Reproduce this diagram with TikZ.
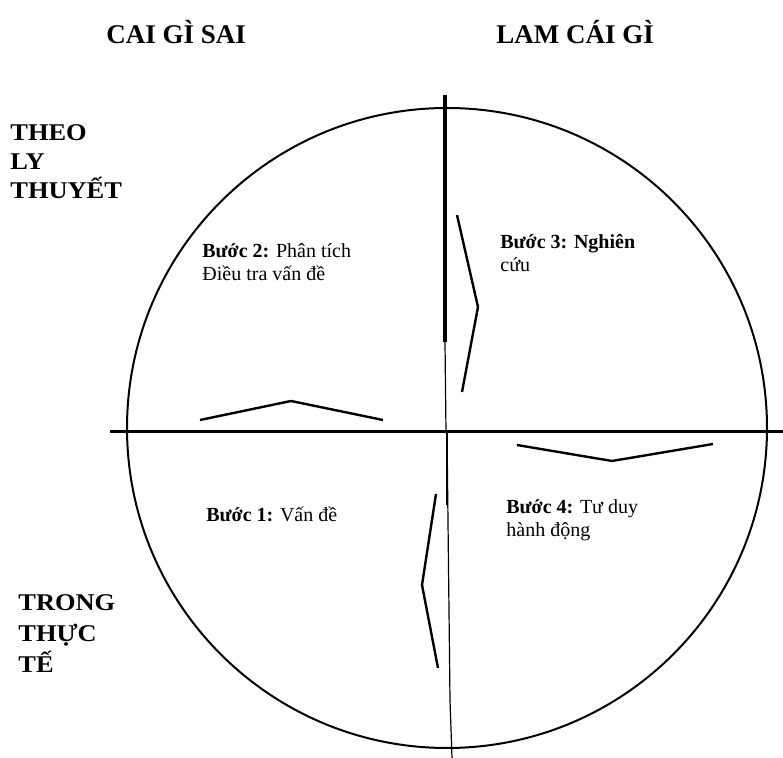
\documentclass[tikz,border=0pt]{standalone}
\usepackage{fontspec}
\setmainfont{Liberation Serif}
\newfontfamily\widefont[FakeStretch=1.1]{Liberation Serif}
\usetikzlibrary{positioning}
\tikzset{
    heading/.style={
        font=\bfseries\fontsize{13.5}{15}\selectfont,
        anchor=base west, inner sep=0pt
    },
    side label/.style={
        font=\widefont\bfseries\fontsize{12}{14.5}\selectfont,
        align=left, anchor=north west, inner sep=0pt
    },
    step note/.style={
        font=\fontsize{10}{11.5}\selectfont,
        align=left, anchor=north west, inner sep=0pt
    },
    ring/.style={line width=1pt},
    axis/.style={line width=1.5pt},
    thin axis/.style={line width=0.6pt},
    chevron/.style={line width=1.2pt, line join=miter}
}
\begin{document}
\begin{tikzpicture}[x=0.5pt, y=-0.5pt]

    \useasboundingbox (0,0) rectangle (783,758);

    % Nodes
    \node[heading] (wrong) at (106,44) {CAI GÌ SAI};
    \node[heading] (todo) at (496,44) {LAM CÁI GÌ};
    \node[side label] (theory) at (10,124) {THEO\\LY\\THUYẾT};
    \node[side label, font=\widefont\bfseries\fontsize{12}{15.5}\selectfont] (practice) at (18,594) {TRONG\\THỰC\\TẾ};
    \node[step note] (step2) at (202,243) {\textbf{Bước 2:} Phân tích\\Điều tra vấn đề};
    \node[step note] (step3) at (500,234) {\textbf{Bước 3: Nghiên}\\cứu};
    \node[step note] (step1) at (206,507) {\textbf{Bước 1:} Vấn đề};
    \node[step note] (step4) at (506,499) {\textbf{Bước 4:} Tư duy\\hành động};

    % Circle and axes
    \coordinate (centre) at (447,428);
    \draw[ring] (centre) circle[radius=320];
    \draw[axis] (110,432) -- (783,432);
    \draw[line width=2pt] (445,95) -- (445,342);
    \draw[thin axis] (445,342) -- (446,432);
    \draw[thin axis] (447,432) -- (450,700) -- (452,758);
    \draw[line width=1.4pt] (447,432) -- (447,505);

    % Turns
    \draw[chevron] (200,420) -- (291,401) -- (383,420);
    \draw[chevron] (457,215) -- (478,307) -- (462,392);
    \draw[chevron] (517,445) -- (612,461) -- (713,444);
    \draw[chevron] (436,494) -- (422,585) -- (438,668);

\end{tikzpicture}
\end{document}
